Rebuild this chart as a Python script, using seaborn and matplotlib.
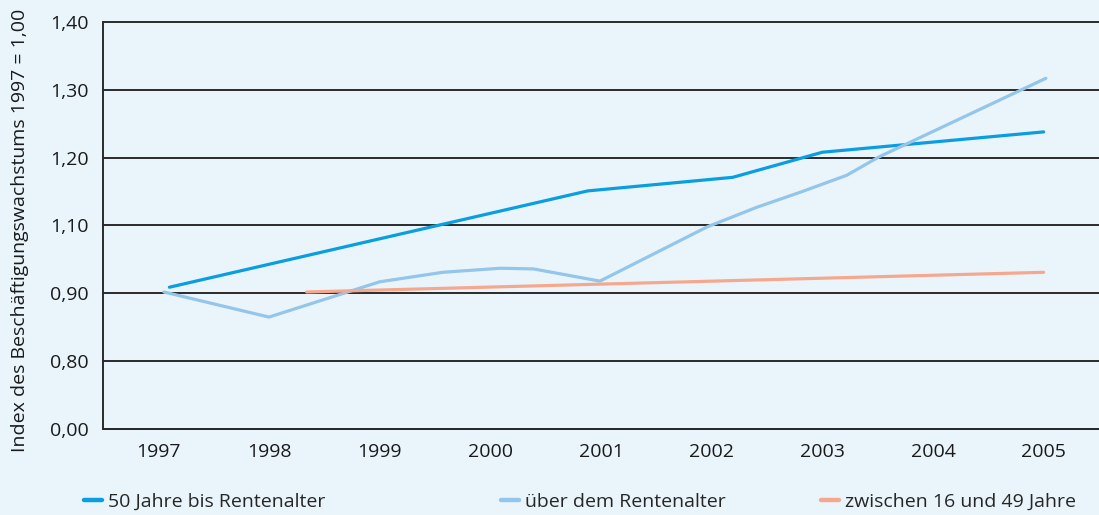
import matplotlib
matplotlib.use("Agg")
import numpy as np
import pandas as pd
import seaborn as sns
import matplotlib.pyplot as plt
from matplotlib.lines import Line2D

# ---- data (visual index scale; gridlines evenly spaced) ----
years = ["1997", "1998", "1999", "2000", "2001", "2002", "2003", "2004", "2005"]
ytick_pos = [0.8, 0.9, 1.0, 1.1, 1.2, 1.3, 1.4]
ytick_labels = ["0,00", "0,80", "0,90", "1,10", "1,20", "1,30", "1,40"]

name1 = "50 Jahre bis Rentenalter"
name2 = "über dem Rentenalter"
name3 = "zwischen 16 und 49 Jahre"

s1_x = [0.1, 3.88, 5.19, 6.0, 8.0]
s1_y = [1.009, 1.151, 1.171, 1.208, 1.238]

s2_x = [0.05, 1.0, 2.0, 2.57, 3.09, 3.39, 3.99, 4.96, 5.41, 5.80, 6.22, 6.51, 8.02]
s2_y = [1.002, 0.965, 1.017, 1.031, 1.037, 1.036, 1.018, 1.098, 1.127, 1.149, 1.174, 1.201, 1.317]

s3_x = [1.34, 8.0]
s3_y = [1.002, 1.031]

colors = {name1: "#0a9ee0", name2: "#93c6ea", name3: "#f6a88f"}
bg = "#eaf5fb"
gridc = "#2a2a2a"

df = pd.concat([
    pd.DataFrame({"x": s1_x, "y": s1_y, "series": name1}),
    pd.DataFrame({"x": s2_x, "y": s2_y, "series": name2}),
    pd.DataFrame({"x": s3_x, "y": s3_y, "series": name3}),
], ignore_index=True)

sns.set_style("white")
plt.rcParams["font.family"] = ["Open Sans", "DejaVu Sans"]
fs = 14

W, H = 1099, 515
fig = plt.figure(figsize=(W / 100, H / 100), dpi=100)
fig.patch.set_facecolor(bg)
ax = fig.add_axes([103 / W, 1 - 429 / H, 1 - 103 / W, (429 - 22) / H])
ax.set_facecolor(bg)

sns.lineplot(data=df, x="x", y="y", hue="series", palette=colors, sort=False,
             estimator=None, linewidth=2.3, ax=ax, legend=True)

ax.set_xlim(-0.5, 8.5)
ax.set_ylim(0.8, 1.4)
ax.set_yticks(ytick_pos)
ax.set_yticklabels(ytick_labels, fontsize=fs, color="#1a1a1a")
ax.set_xticks(range(len(years)))
ax.set_xticklabels(years, fontsize=fs, color="#1a1a1a")
ax.set_xticks(np.arange(-0.5, len(years) - 0.5, 1.0), minor=True)
ax.tick_params(axis="x", which="major", length=0, pad=10)
ax.tick_params(axis="x", which="minor", length=6, width=1.4, color=gridc, direction="out")
ax.tick_params(axis="y", which="major", length=4.5, width=1.4, color=gridc, pad=6)

ax.yaxis.grid(True, color=gridc, linewidth=1.4)
ax.xaxis.grid(False)
for gl in ax.get_ygridlines():
    gl.set_clip_on(False)
ax.set_axisbelow(True)

for side in ["top", "right"]:
    ax.spines[side].set_visible(False)
for side in ["left", "bottom"]:
    ax.spines[side].set_color(gridc)
    ax.spines[side].set_linewidth(1.4)

ax.set_xlabel("")
ax.set_ylabel("Index des Beschäftigungswachstums 1997 = 1,00", fontsize=14, color="#1a1a1a")
ax.yaxis.set_label_coords((29 - 103) / (W - 103), (429 - 230) / (429 - 22))

ax.get_legend().remove()
legend_x = {name1: 84, name2: 501, name3: 821}
for nm in [name1, name2, name3]:
    h = Line2D([0], [0], color=colors[nm], linewidth=3.2)
    fig.legend([h], [nm], loc="center left",
               bbox_to_anchor=(legend_x[nm] / W, 1 - 502 / H),
               frameon=False, fontsize=fs, handlelength=0.95,
               handletextpad=0.3, borderpad=0, borderaxespad=0)

fig.savefig("out.png", dpi=100, facecolor=bg)
